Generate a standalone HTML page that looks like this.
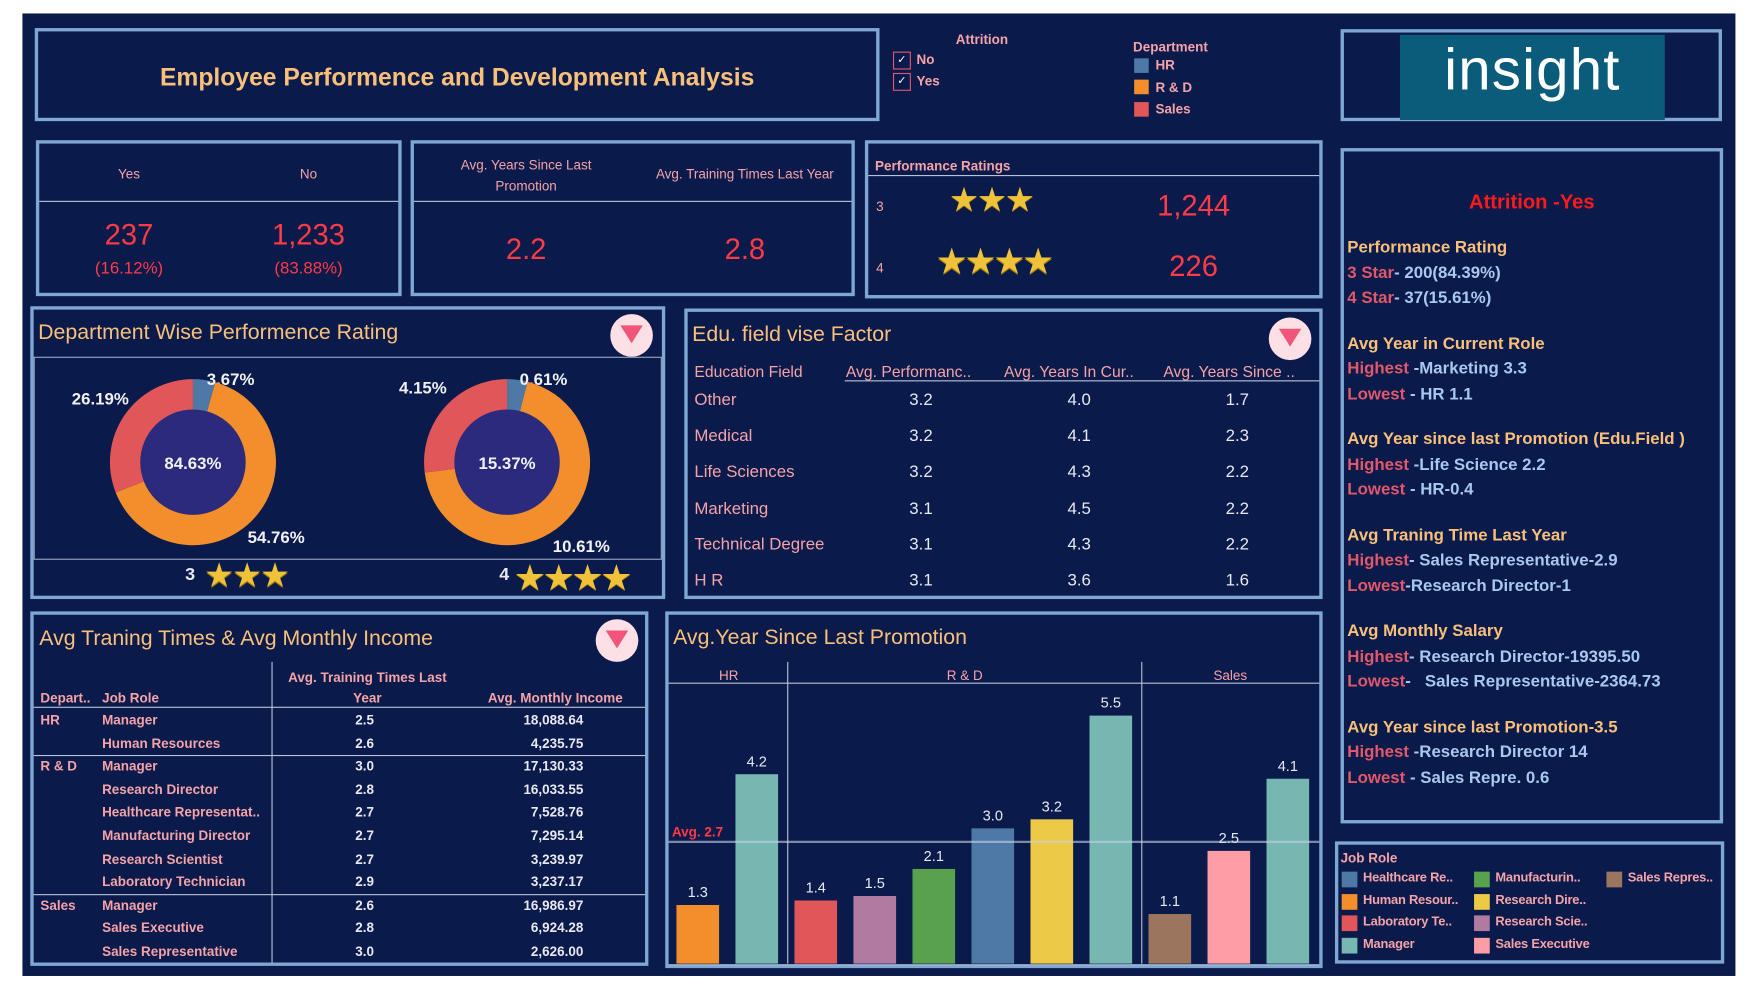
<!DOCTYPE html>
<html><head><meta charset="utf-8">
<style>
html,body{margin:0;padding:0;background:#fff;width:1759px;height:989px;overflow:hidden}
#root{position:absolute;left:0;top:0;width:1568px;height:882px;transform:scale(1.12181);transform-origin:0 0;font-family:"Liberation Sans",sans-serif}
.abs{position:absolute}
.bg{left:20px;top:12px;width:1527px;height:858px;background:#0a1a4b}
.box{position:absolute;border:3px solid #7ea7d3;box-sizing:border-box}
.t{position:absolute;white-space:nowrap}
.or{color:#f9c07a}.pk{color:#f4a3a8}.rd{color:#ff3b46}.wh{color:#e8e8f0}.lb{color:#a9c8ee}.rl{color:#e0586a}
.b{font-weight:bold}
.hl{position:absolute;height:1px;background:#b9c3d6}
.vl{position:absolute;width:1px;background:#b9c3d6}
.funnel{position:absolute;width:38px;height:38px;border-radius:50%;background:#fde0e6}
.star{color:#f0c23a;text-shadow:0 1px 0 #a07a10}
</style></head><body>
<div id="root">
<div class="abs bg"></div>

<div class="box" style="left:31px;top:25px;width:753px;height:83px">
 <div class="t or b" style="left:0;right:0;top:28px;text-align:center;font-size:22px">Employee Performence and Development Analysis</div>
</div>

<div class="t pk b" style="left:852px;top:28px;font-size:12px">Attrition</div>
<div class="abs" style="left:796px;top:46px;width:14px;height:14px;border:1px solid #e0586a;color:#fff;font-size:10px;text-align:center;line-height:14px">✓</div>
<div class="t pk b" style="left:817px;top:46px;font-size:12px">No</div>
<div class="abs" style="left:796px;top:65px;width:14px;height:14px;border:1px solid #e0586a;color:#fff;font-size:10px;text-align:center;line-height:14px">✓</div>
<div class="t pk b" style="left:817px;top:65px;font-size:12px">Yes</div>

<div class="t pk b" style="left:1010px;top:35px;font-size:12px">Department</div>
<div class="abs" style="left:1011px;top:52px;width:13px;height:13px;background:#4e79a7"></div>
<div class="t pk b" style="left:1030px;top:51px;font-size:12px">HR</div>
<div class="abs" style="left:1011px;top:71px;width:13px;height:13px;background:#f28e2b"></div>
<div class="t pk b" style="left:1030px;top:71px;font-size:12px">R &amp; D</div>
<div class="abs" style="left:1011px;top:91px;width:13px;height:13px;background:#e15759"></div>
<div class="t pk b" style="left:1030px;top:90px;font-size:12px">Sales</div>

<div class="box" style="left:1195px;top:26px;width:340px;height:82px">
 <div class="abs" style="left:50px;top:2px;width:236px;height:76px;background:#0b5b7a"></div>
 <div class="t" style="left:50px;width:236px;top:4px;text-align:center;font-size:52px;color:#fff;letter-spacing:1px">insight</div>
</div>

<!-- KPI 1 -->
<div class="box" style="left:32px;top:125px;width:326px;height:139px">
 <div class="t pk" style="left:60px;width:40px;text-align:center;top:20px;font-size:12px">Yes</div>
 <div class="t pk" style="left:220px;width:40px;text-align:center;top:20px;font-size:12px">No</div>
 <div class="hl" style="left:0;right:0;top:51px"></div>
 <div class="t rd" style="left:30px;width:100px;text-align:center;top:66px;font-size:26px">237</div>
 <div class="t rd" style="left:30px;width:100px;text-align:center;top:103px;font-size:15px">(16.12%)</div>
 <div class="t rd" style="left:190px;width:100px;text-align:center;top:66px;font-size:26px">1,233</div>
 <div class="t rd" style="left:190px;width:100px;text-align:center;top:103px;font-size:15px">(83.88%)</div>
</div>

<!-- KPI 2 -->
<div class="box" style="left:366px;top:125px;width:396px;height:139px">
 <div class="t pk" style="left:20px;width:160px;text-align:center;top:10px;font-size:12px;line-height:19px;white-space:normal">Avg. Years Since Last Promotion</div>
 <div class="t pk" style="left:195px;width:200px;text-align:center;top:20px;font-size:12px">Avg. Training Times Last Year</div>
 <div class="hl" style="left:0;right:0;top:51px"></div>
 <div class="t rd" style="left:50px;width:100px;text-align:center;top:79px;font-size:26px">2.2</div>
 <div class="t rd" style="left:245px;width:100px;text-align:center;top:79px;font-size:26px">2.8</div>
</div>

<!-- Performance ratings -->
<div class="box" style="left:771px;top:125px;width:408px;height:141px">
 <div class="t pk b" style="left:6px;top:13px;font-size:12px">Performance Ratings</div>
 <div class="hl" style="left:0;right:0;top:28px"></div>
 <div class="t pk" style="left:7px;top:49px;font-size:12px">3</div>
 <div class="t star" style="left:72px;top:33px;font-size:30px;letter-spacing:-2px">★★★</div>
 <div class="t rd" style="left:240px;width:100px;text-align:center;top:40px;font-size:26px">1,244</div>
 <div class="t pk" style="left:7px;top:104px;font-size:12px">4</div>
 <div class="t star" style="left:60px;top:86px;font-size:32px;letter-spacing:-3px">★★★★</div>
 <div class="t rd" style="left:240px;width:100px;text-align:center;top:94px;font-size:26px">226</div>
</div>

<!-- Department donuts -->
<div class="box" style="left:27px;top:273px;width:566px;height:261px">
 <div class="t or" style="left:4px;top:10px;font-size:19px">Department Wise Performence Rating</div>
 <div class="funnel" style="left:514px;top:4px"><div style="position:absolute;left:9px;top:10px;width:0;height:0;border-left:10px solid transparent;border-right:10px solid transparent;border-top:16px solid #f2557a"></div></div>
 <div class="abs" style="left:0;top:42px;width:560px;height:181px;border:1px solid #9aa5bf;box-sizing:border-box"></div>
 <svg id="donuts" class="abs" style="left:0;top:0" width="566" height="261"></svg>
 <div class="t wh" style="left:135px;top:228px;font-size:16px;font-weight:bold">3</div>
 <div class="t star" style="left:152px;top:220px;font-size:30px;letter-spacing:-2px">★★★</div>
 <div class="t wh" style="left:415px;top:228px;font-size:16px;font-weight:bold">4</div>
 <div class="t star" style="left:428px;top:220px;font-size:32px;letter-spacing:-3px">★★★★</div>
</div>

<!-- Edu table -->
<div class="box" style="left:610px;top:275px;width:569px;height:259px">
 <div class="t or" style="left:4px;top:10px;font-size:19px">Edu. field vise Factor</div>
 <div class="funnel" style="left:518px;top:5px"><div style="position:absolute;left:9px;top:10px;width:0;height:0;border-left:10px solid transparent;border-right:10px solid transparent;border-top:16px solid #f2557a"></div></div>
 <div id="edu"></div>
</div>

<!-- Training table -->
<div class="box" style="left:27px;top:545px;width:551px;height:316px">
 <div class="t or" style="left:5px;top:11px;font-size:19px">Avg Traning Times &amp; Avg Monthly Income</div>
 <div class="funnel" style="left:501px;top:4px"><div style="position:absolute;left:9px;top:10px;width:0;height:0;border-left:10px solid transparent;border-right:10px solid transparent;border-top:16px solid #f2557a"></div></div>
 <div id="train"></div>
</div>

<!-- Bar chart -->
<div class="box" style="left:593px;top:545px;width:586px;height:318px">
 <div class="t or" style="left:4px;top:10px;font-size:19px">Avg.Year Since Last Promotion</div>
 <svg id="bars" class="abs" style="left:-3px;top:-3px" width="586" height="318"></svg>
</div>

<!-- Right insights -->
<div class="box" style="left:1195px;top:132px;width:341px;height:602px">
 <div class="t b" style="left:0;right:0;text-align:center;top:35px;font-size:18px;color:#ff1a1a">Attrition -Yes</div>
 <div style="position:absolute;left:3px;top:75px;font-size:15px;line-height:22.5px;font-weight:bold;white-space:nowrap">
  <div class="or">Performance Rating</div>
  <div><span class="rl">3 Star</span><span class="lb">- 200(84.39%)</span></div>
  <div><span class="rl">4 Star</span><span class="lb">- 37(15.61%)</span></div>
  <div style="height:18px"></div>
  <div class="or">Avg Year in Current Role</div>
  <div><span class="rl">Highest</span><span class="lb"> -Marketing 3.3</span></div>
  <div><span class="rl">Lowest</span><span class="lb"> - HR 1.1</span></div>
  <div style="height:18px"></div>
  <div class="or">Avg Year since last Promotion (Edu.Field )</div>
  <div><span class="rl">Highest</span><span class="lb"> -Life Science 2.2</span></div>
  <div><span class="rl">Lowest</span><span class="lb"> - HR-0.4</span></div>
  <div style="height:18px"></div>
  <div class="or">Avg Traning Time Last Year</div>
  <div><span class="rl">Highest</span><span class="lb">- Sales Representative-2.9</span></div>
  <div><span class="rl">Lowest</span><span class="lb">-Research Director-1</span></div>
  <div style="height:18px"></div>
  <div class="or">Avg Monthly Salary</div>
  <div><span class="rl">Highest</span><span class="lb">- Research Director-19395.50</span></div>
  <div><span class="rl">Lowest</span><span class="lb">-&nbsp;&nbsp; Sales Representative-2364.73</span></div>
  <div style="height:18px"></div>
  <div class="or">Avg Year since last Promotion-3.5</div>
  <div><span class="rl">Highest</span><span class="lb"> -Research Director 14</span></div>
  <div><span class="rl">Lowest</span><span class="lb"> - Sales Repre. 0.6</span></div>
 </div>
</div>

<!-- Job role legend -->
<div class="box" style="left:1190px;top:750px;width:347px;height:109px">
 <div class="t pk b" style="left:2px;top:5px;font-size:12px">Job Role</div>
 <div id="legend"></div>
</div>

<script>
// ---- Donut data ----
const donutRatings = ["3", "4"];
const donutTotals = ["84.63%", "15.37%"];
const donutHR = [3.67, 0.61];
const donutRD = [54.76, 10.61];
const donutSales = [26.19, 4.15];
const donutColors = ["#4e79a7", "#f28e2b", "#e15759"];

// ---- Bar data ----
const barDepts = ["HR", "HR", "R & D", "R & D", "R & D", "R & D", "R & D", "R & D", "Sales", "Sales", "Sales"];
const barRoles = ["Human Resources", "Manager", "Laboratory Technician", "Research Scientist", "Manufacturing Director", "Healthcare Representative", "Research Director", "Manager", "Sales Representative", "Sales Executive", "Manager"];
const barValues = [1.3, 4.2, 1.4, 1.5, 2.1, 3.0, 3.2, 5.5, 1.1, 2.5, 4.1];
const barAverage = [2.7];
const roleColors = {"Healthcare Representative":"#4e79a7","Human Resources":"#f28e2b","Laboratory Technician":"#e15759","Manager":"#76b7b2","Manufacturing Director":"#59a14f","Research Director":"#edc948","Research Scientist":"#b07aa1","Sales Executive":"#ff9da7","Sales Representative":"#9c755f"};

// ---- Edu table data ----
const eduFields = ["Other", "Medical", "Life Sciences", "Marketing", "Technical Degree", "H R"];
const eduPerf = ["3.2", "3.2", "3.2", "3.1", "3.1", "3.1"];
const eduCurRole = ["4.0", "4.1", "4.3", "4.5", "4.3", "3.6"];
const eduPromo = ["1.7", "2.3", "2.2", "2.2", "2.2", "1.6"];

// ---- Training table data ----
const trDepts = ["HR", "", "R & D", "", "", "", "", "", "Sales", "", ""];
const trRoles = ["Manager", "Human Resources", "Manager", "Research Director", "Healthcare Representat..", "Manufacturing Director", "Research Scientist", "Laboratory Technician", "Manager", "Sales Executive", "Sales Representative"];
const trTraining = ["2.5", "2.6", "3.0", "2.8", "2.7", "2.7", "2.7", "2.9", "2.6", "2.8", "3.0"];
const trIncome = ["18,088.64", "4,235.75", "17,130.33", "16,033.55", "7,528.76", "7,295.14", "3,239.97", "3,237.17", "16,986.97", "6,924.28", "2,626.00"];

// ---- Legend data ----
const legendLabels = ["Healthcare Re..", "Human Resour..", "Laboratory Te..", "Manager", "Manufacturin..", "Research Dire..", "Research Scie..", "Sales Executive", "Sales Repres.."];
const legendKeys = ["Healthcare Representative", "Human Resources", "Laboratory Technician", "Manager", "Manufacturing Director", "Research Director", "Research Scientist", "Sales Executive", "Sales Representative"];

const NS = "http://www.w3.org/2000/svg";
function sv(tag, attrs, parent){const e=document.createElementNS(NS,tag);for(const k in attrs)e.setAttribute(k,attrs[k]);parent.appendChild(e);return e;}

// Donuts
(function(){
 const svg=document.getElementById('donuts');
 const centers=[[142,136],[422,136]];
 const R=74, r=47;
 donutRatings.forEach((rt,i)=>{
  const vals=[donutHR[i],donutRD[i],donutSales[i]];
  const tot=vals.reduce((a,b)=>a+b,0);
  const [cx,cy]=centers[i];
  let a0=0;
  vals.forEach((v,j)=>{
   const a1=a0+v/tot*2*Math.PI;
   const p=(a,rad)=>[cx+rad*Math.sin(a),cy-rad*Math.cos(a)];
   const [x0,y0]=p(a0,R),[x1,y1]=p(a1,R);
   const large=(a1-a0)>Math.PI?1:0;
   const seg=sv('path',{d:`M${cx},${cy} L${x0},${y0} A${R},${R} 0 ${large} 1 ${x1},${y1} Z`,fill:donutColors[j]},svg);
   
   
   const mid=(a0+a1)/2;
   let [lx,ly]=p(mid,R+26);
   if(j===0){lx+=20;ly=cy-74;}
   const t=sv('text',{x:lx,y:ly+5,fill:'#f0f0f5','font-size':15,'font-weight':'bold','text-anchor':'middle','font-family':'Liberation Sans, sans-serif'},svg);
   t.textContent=vals[j].toFixed(2)+'%';
   
   
   a0=a1;
  });
  const hole=sv('circle',{cx:cx,cy:cy,r:r,fill:'#2b2a7c'},svg);
  
  
  const ct=sv('text',{x:cx,y:cy+6,fill:'#f0f0f5','font-size':15,'font-weight':'bold','text-anchor':'middle','font-family':'Liberation Sans, sans-serif'},svg);
  ct.textContent=donutTotals[i];
  
  
 });
})();

// Bars
(function(){
 const svg=document.getElementById('bars');
 const ox=593, oy=545;
 const base=859-oy, slot=52.6, left=597-ox, yScale=40.2;
 const y=v=>base-v*yScale;
 const x=i=>left+slot*i;
 const F='Liberation Sans, sans-serif';
 const hl=sv('line',{x1:3,x2:583,y1:609-oy,y2:609-oy,stroke:'#b9c3d6','stroke-width':1},svg);
 
 
 const depts=[...new Set(barDepts)];
 let start=0;
 depts.forEach((d,k)=>{
  const n=barDepts.filter(v=>v===d).length;
  const x0=x(start), x1=x(start+n);
  const t=sv('text',{x:(x0+x1)/2,y:606-oy,fill:'#f4a3a8','font-size':12,'text-anchor':'middle','font-family':F},svg);
  t.textContent=d;
  
  
  if(k>0){const l=sv('line',{x1:x0,x2:x0,y1:590-oy,y2:base,stroke:'#b9c3d6','stroke-width':1},svg);
   
   }
  start+=n;
 });
 barValues.forEach((v,i)=>{
  const b=sv('rect',{x:x(i)+6,y:y(v),width:38,height:v*yScale,fill:roleColors[barRoles[i]]},svg);
  
  
  const t=sv('text',{x:x(i)+25,y:y(v)-7,fill:'#e8e8f0','font-size':13,'text-anchor':'middle','font-family':F},svg);
  t.textContent=v.toFixed(1);
  
  
 });
 const al=sv('line',{x1:3,x2:583,y1:y(barAverage[0]),y2:y(barAverage[0]),stroke:'#c8d2e4','stroke-opacity':0.6,'stroke-width':2},svg);
 
 
 const at=sv('text',{x:6,y:y(barAverage[0])-5,fill:'#ff3b46','font-size':12,'font-weight':'bold','font-family':F},svg);
 at.textContent='Avg. '+barAverage[0];
 
 
 const bl=sv('line',{x1:3,x2:583,y1:base+1,y2:base+1,stroke:'#b9c3d6','stroke-width':1},svg);
 
 
})();

// Edu table
(function(){
 const host=document.getElementById('edu');
 const heads=["Education Field","Avg. Performanc..","Avg. Years In Cur..","Avg. Years Since .."];
 const hx=[6,141,282,424];
 heads.forEach((h,i)=>{
  const d=document.createElement('div');d.className='t pk';d.style.cssText=`left:${hx[i]}px;top:45px;font-size:14px`;d.textContent=h;
  
  
  host.appendChild(d);
 });
 const l=document.createElement('div');l.className='hl';l.style.cssText='left:140px;right:0;top:61px';
 
 
 host.appendChild(l);
 const cx=[208,349,490];
 eduFields.forEach((f,r)=>{
  const top=70+r*32.2;
  const d=document.createElement('div');d.className='t pk';d.style.cssText=`left:6px;top:${top}px;font-size:15px`;d.textContent=f;
  
  
  host.appendChild(d);
  [eduPerf[r],eduCurRole[r],eduPromo[r]].forEach((v,c)=>{
   const e=document.createElement('div');e.className='t wh';e.style.cssText=`left:${cx[c]-30}px;width:60px;text-align:center;top:${top}px;font-size:15px`;e.textContent=v;
   
   
   host.appendChild(e);
  });
 });
})();

// Training table
(function(){
 const host=document.getElementById('train');
 const mk=(txt,css,cls,name)=>{const d=document.createElement('div');d.className='t '+cls;d.style.cssText=css;d.textContent=txt;
  
  
  host.appendChild(d);};
 mk('Avg. Training Times Last','left:200px;width:195px;text-align:center;top:49px;font-size:12px;font-weight:bold','pk','training-header-line1');
 mk('Year','left:200px;width:195px;text-align:center;top:67px;font-size:12px;font-weight:bold','pk','training-header-line2');
 mk('Avg. Monthly Income','left:390px;width:150px;text-align:center;top:67px;font-size:12px;font-weight:bold','pk','income-header');
 mk('Depart..','left:6px;top:67px;font-size:12px;font-weight:bold','pk','dept-header');
 mk('Job Role','left:61px;top:67px;font-size:12px;font-weight:bold','pk','job-role-header');
 const v=document.createElement('div');v.className='vl';v.style.cssText='left:212px;top:42px;bottom:0';
 
 
 host.appendChild(v);
 const h=document.createElement('div');h.className='hl';h.style.cssText='left:0;right:0;top:82px';
 
 
 host.appendChild(h);
 trRoles.forEach((r,i)=>{
  const top=87+i*20.6;
  if(trDepts[i]&&i>0){const s=document.createElement('div');s.className='hl';s.style.cssText=`left:0;right:0;top:${top-3}px`;
   
   
   host.appendChild(s);}
  if(trDepts[i])mk(trDepts[i],`left:6px;top:${top}px;font-size:12px;font-weight:bold`,'pk','training-dept-label');
  mk(r,`left:61px;top:${top}px;font-size:12px;font-weight:bold`,'pk','training-role-label');
  mk(trTraining[i],`left:265px;width:60px;text-align:center;top:${top}px;font-size:12px;font-weight:bold`,'wh','training-value');
  mk(trIncome[i],`left:380px;width:110px;text-align:right;top:${top}px;font-size:12px;font-weight:bold`,'wh','income-value');
 });
})();

// Legend
(function(){
 const host=document.getElementById('legend');
 legendLabels.forEach((lab,i)=>{
  const col=Math.floor(i/4), row=i%4;
  const x=3+col*118, y=24+row*19.5;
  const s=document.createElement('div');s.className='abs';s.style.cssText=`left:${x}px;top:${y}px;width:14px;height:14px;background:${roleColors[legendKeys[i]]}`;
  
  
  host.appendChild(s);
  const t=document.createElement('div');t.className='t pk b';t.style.cssText=`left:${x+19}px;top:${y}px;font-size:11.5px;letter-spacing:-0.2px`;t.textContent=lab;
  
  
  host.appendChild(t);
 });
})();
</script>
</div>
</body></html>
